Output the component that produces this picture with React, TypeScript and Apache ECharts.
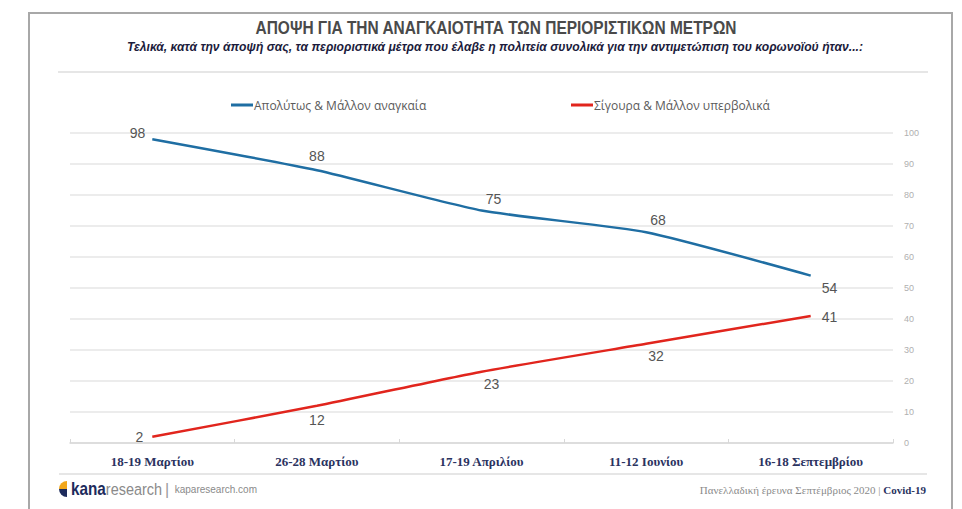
import React, { useEffect, useRef } from "react";
import * as echarts from "echarts";

const categories = ["18-19 Μαρτίου", "26-28 Μαρτίου", "17-19 Απριλίου", "11-12 Ιουνίου", "16-18 Σεπτεμβρίου"];
const necessaryValues = [98, 88, 75, 68, 54];
const excessiveValues = [2, 12, 23, 32, 41];
const seriesNames = ["Απολύτως & Μάλλον αναγκαία", "Σίγουρα & Μάλλον υπερβολικά"];
const yTicks = [0, 10, 20, 30, 40, 50, 60, 70, 80, 90, 100];

const titleText = "ΑΠΟΨΗ ΓΙΑ ΤΗΝ ΑΝΑΓΚΑΙΟΤΗΤΑ ΤΩΝ ΠΕΡΙΟΡΙΣΤΙΚΩΝ ΜΕΤΡΩΝ";
const subtitleText =
  "Τελικά, κατά την άποψή σας, τα περιοριστικά μέτρα που έλαβε η πολιτεία συνολικά για την αντιμετώπιση του κορωνοϊού ήταν...:";

const BLUE = "#1f6ea3";
const RED = "#e1251d";
const SANS = "'Liberation Sans', Arial, sans-serif";
const SERIF = "'Liberation Serif', 'DejaVu Serif', serif";

const blueLabelPos: any[] = [
  { position: "left", offset: [-2, -6] },
  { position: "top", offset: [0, -2] },
  { position: "top", offset: [12, 0] },
  { position: "top", offset: [12, 0] },
  { position: "right", offset: [6, 12] },
];
const redLabelPos: any[] = [
  { position: "left", offset: [-4, 0] },
  { position: "bottom", offset: [0, 2] },
  { position: "bottom", offset: [10, 0] },
  { position: "bottom", offset: [10, 0] },
  { position: "right", offset: [6, 1] },
];

export default function App() {
  const ref = useRef<HTMLDivElement>(null);
  useEffect(() => {
    document.body.style.margin = "0";
    const chart = echarts.init(ref.current!, undefined, { renderer: "svg" });
    const labelBase = { show: true, color: "#555", fontSize: 14, fontFamily: SANS };
    const legendText = { color: "#5a5a5a", fontSize: 12, fontFamily: "'Open Sans', sans-serif", padding: [0, 0, 0, -4] };
    chart.setOption({
      animation: false,
      backgroundColor: "#fff",
      grid: { left: 70, right: 69, top: 133, bottom: 66, containLabel: false },
      legend: [
        { data: [seriesNames[0]], left: 226, top: 94, icon: "rect", itemWidth: 22, itemHeight: 3, itemGap: 0, textStyle: legendText },
        { data: [seriesNames[1]], left: 566, top: 94, icon: "rect", itemWidth: 22, itemHeight: 3, itemGap: 0, textStyle: legendText },
      ],
      xAxis: {
        type: "category",
        data: categories,
        boundaryGap: true,
        axisLine: { lineStyle: { color: "#d8d8d8", width: 1.5 } },
        axisTick: { show: true, interval: 0, length: 4, inside: true, lineStyle: { color: "#d8d8d8" } },
        axisLabel: {
          color: "#2b335f",
          fontSize: 13,
          fontWeight: "bold",
          fontFamily: SERIF,
          margin: 12,
          interval: 0,
        },
      },
      yAxis: {
        type: "value",
        position: "right",
        min: yTicks[0],
        max: yTicks[yTicks.length - 1],
        interval: 10,
        axisLine: { show: false },
        axisTick: { show: false },
        axisLabel: { color: "#b0b0b0", fontSize: 9, fontFamily: SANS, margin: 11 },
        splitLine: { lineStyle: { color: "#e6e6e6", width: 1.5 } },
      },
      series: [
        {
          name: seriesNames[0],
          type: "line",
          smooth: 0.18,
          showSymbol: true,
          symbol: "circle",
          symbolSize: 0,
          lineStyle: { color: BLUE, width: 2.5 },
          itemStyle: { color: BLUE },
          data: necessaryValues.map((v, i) => ({ value: v, label: { ...labelBase, ...blueLabelPos[i] } })),
        },
        {
          name: seriesNames[1],
          type: "line",
          smooth: 0.18,
          showSymbol: true,
          symbol: "circle",
          symbolSize: 0,
          lineStyle: { color: RED, width: 2.5 },
          itemStyle: { color: RED },
          data: excessiveValues.map((v, i) => ({ value: v, label: { ...labelBase, ...redLabelPos[i] } })),
        },
      ],
      graphic: [
        {
          type: "rect",
          shape: { x: 29, y: 13, width: 923, height: 520 },
          style: { fill: "none", stroke: "#a8a8a8", lineWidth: 2 },
          silent: true,
        },
        {
          type: "text",
          x: 496,
          y: 28,
          scaleX: 0.86,
          style: {
            text: titleText,
            fill: "#4a4a4a",
            font: `bold 18px ${SANS}`,
            textAlign: "center",
            textVerticalAlign: "middle",
          },
        },
        {
          type: "text",
          x: 495,
          y: 47,
          scaleX: 0.935,
          style: {
            text: subtitleText,
            fill: "#1c1c3c",
            font: `italic bold 13px ${SANS}`,
            textAlign: "center",
            textVerticalAlign: "middle",
          },
        },
        {
          type: "line",
          shape: { x1: 58, y1: 72, x2: 928, y2: 72 },
          style: { stroke: "#e6e6e6", lineWidth: 2 },
        },
        {
          type: "line",
          shape: { x1: 59, y1: 474, x2: 927, y2: 474 },
          style: { stroke: "#e6e6e6", lineWidth: 2 },
        },
        {
          type: "sector",
          shape: { cx: 67, cy: 489, r0: 0, r: 8, startAngle: Math.PI, endAngle: (3 * Math.PI) / 2 },
          style: { fill: "#f2a71b" },
        },
        {
          type: "sector",
          shape: { cx: 67, cy: 489, r0: 0, r: 8, startAngle: Math.PI / 2, endAngle: Math.PI },
          style: { fill: "#1d2b5c" },
        },
        {
          type: "text",
          x: 71,
          y: 489,
          scaleX: 0.85,
          style: {
            text: "{a|kana}{b|research}",
            textVerticalAlign: "middle",
            rich: {
              a: { fill: "#1d2b5c", font: `bold 18px ${SANS}` },
              b: { fill: "#8a8a8a", font: `17px ${SANS}` },
            },
          },
        },
        {
          type: "text",
          x: 165,
          y: 489,
          style: {
            text: "{c||}{d|  kaparesearch.com}",
            textVerticalAlign: "middle",
            rich: {
              c: { fill: "#9a9a9a", font: `16px ${SANS}` },
              d: { fill: "#8a8a8a", font: `10px ${SANS}` },
            },
          },
        },
        {
          type: "text",
          x: 926,
          y: 490,
          style: {
            text: "{a|Πανελλαδική έρευνα Σεπτέμβριος 2020 | }{b|Covid-19}",
            textAlign: "right",
            textVerticalAlign: "middle",
            rich: {
              a: { fill: "#8a8a8a", font: `11px ${SERIF}` },
              b: { fill: "#2b335f", font: `bold 11px ${SERIF}` },
            },
          },
        },
      ],
    });
    return () => chart.dispose();
  }, []);
  return <div ref={ref} style={{ width: 962, height: 509 }} />;
}
